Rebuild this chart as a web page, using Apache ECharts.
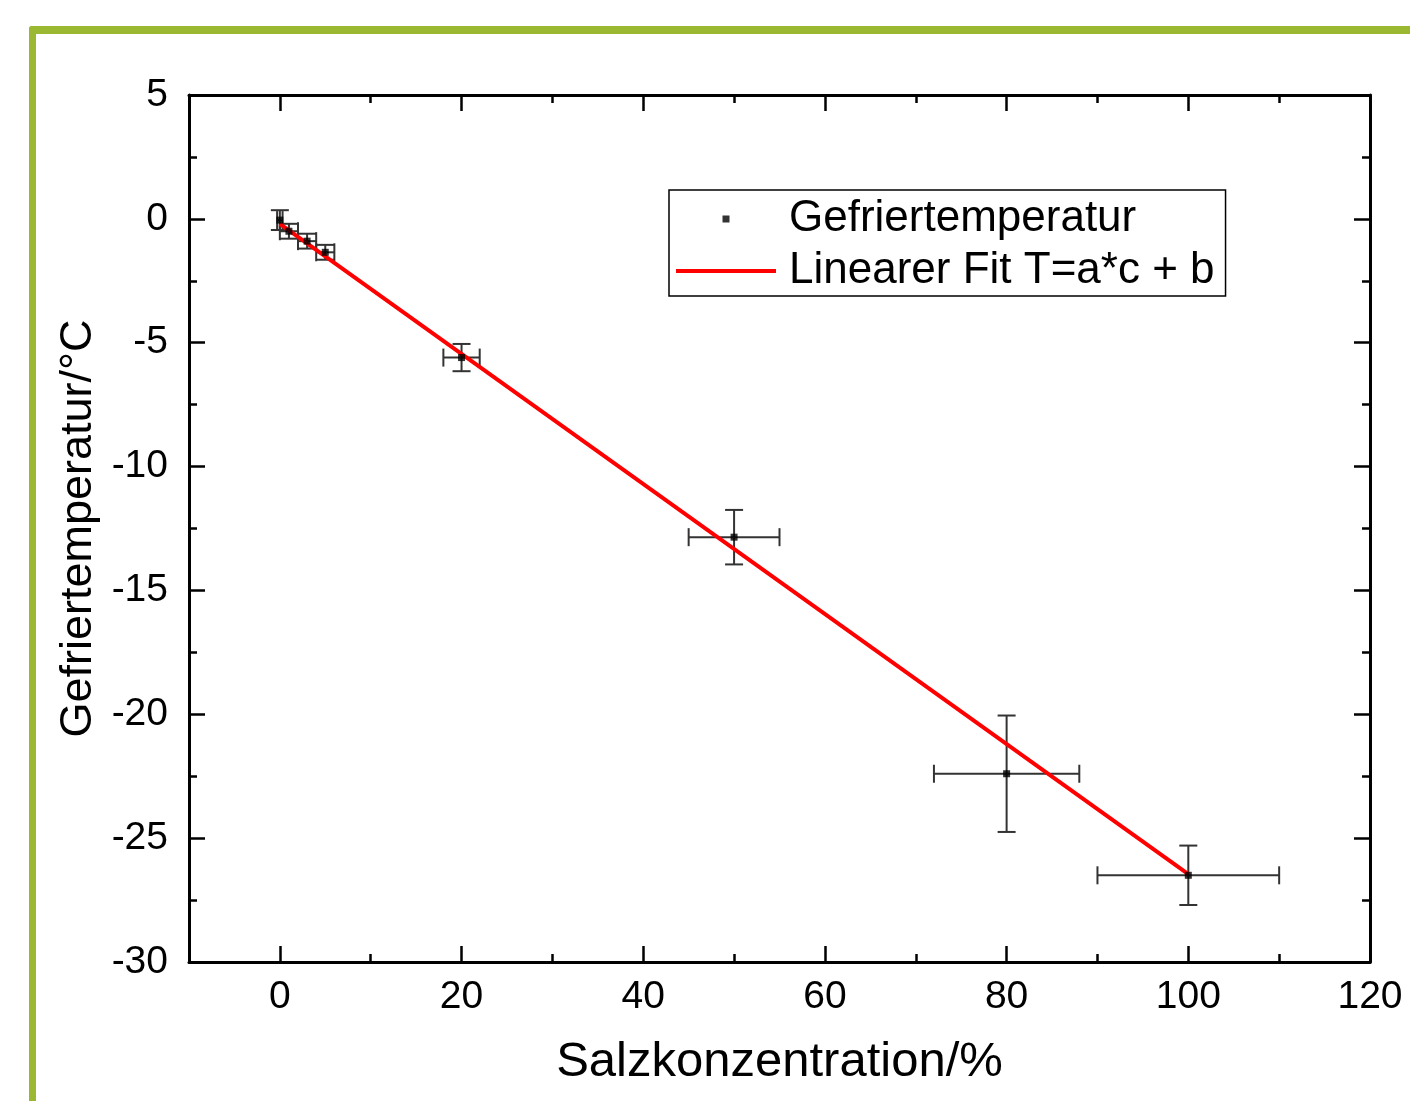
<!DOCTYPE html>
<html><head><meta charset="utf-8">
<script src="https://cdn.jsdelivr.net/npm/echarts@6/dist/echarts.min.js"></script>
<style>html,body{margin:0;padding:0;background:#fff}#c{width:1410px;height:1101px}</style>
</head><body><div id="c"></div>
<script>
// ---- data ----
const concentration = [0, 1, 3, 5, 20, 50, 80, 100];
const freezeTemp    = [-0.05, -0.5, -0.9, -1.35, -5.6, -12.85, -22.4, -26.5];
const concErr       = [0.3, 1, 1, 1, 2, 5, 8, 10];
const tempErr       = [0.4, 0.3, 0.3, 0.3, 0.55, 1.1, 2.35, 1.2];
const fitX = [0, 100];
const fitY = [-0.2, -26.45];
const xMajorTicks = [0, 20, 40, 60, 80, 100, 120];
const xMinorTicks = [-10, 10, 30, 50, 70, 90, 110];
const yTickLabels = [-30, -25, -20, -15, -10, -5, 0, 5];

const FONT = 'Liberation Sans, Arial, sans-serif';
const errData = concentration.map((c, i) => [c, freezeTemp[i], concErr[i], tempErr[i]]);
const ptData = concentration.map((c, i) => [c, freezeTemp[i]]);
const fitData = fitX.map((x, i) => [x, fitY[i]]);

function renderErr(params, api) {
  const x = api.value(0), y = api.value(1), ex = api.value(2), ey = api.value(3);
  const c = api.coord([x, y]);
  const l = api.coord([x - ex, y]), r = api.coord([x + ex, y]);
  const t = api.coord([x, y + ey]), b = api.coord([x, y - ey]);
  const h = 9;
  const style = { stroke: '#333', lineWidth: 2, fill: null };
  return { type: 'group', children: [
    { type: 'line', shape: { x1: l[0], y1: c[1], x2: r[0], y2: c[1] }, style },
    { type: 'line', shape: { x1: l[0], y1: c[1] - h, x2: l[0], y2: c[1] + h }, style },
    { type: 'line', shape: { x1: r[0], y1: c[1] - h, x2: r[0], y2: c[1] + h }, style },
    { type: 'line', shape: { x1: c[0], y1: t[1], x2: c[0], y2: b[1] }, style },
    { type: 'line', shape: { x1: c[0] - h, y1: t[1], x2: c[0] + h, y2: t[1] }, style },
    { type: 'line', shape: { x1: c[0] - h, y1: b[1], x2: c[0] + h, y2: b[1] }, style }
  ]};
}

const axisLine = { show: true, onZero: false, lineStyle: { color: '#000', width: 3 } };
function xAx(pos, ticks, len, main) {
  return {
    type: 'value', position: pos, min: -10, max: 120,
    axisLine: main ? axisLine : { show: false, onZero: false },
    splitLine: { show: false },
    axisTick: { show: true, inside: true, length: len, customValues: ticks, lineStyle: { color: '#000', width: 2.5 } },
    axisLabel: main && pos === 'bottom'
      ? { show: true, customValues: xMajorTicks, margin: 16, fontSize: 39, color: '#000', fontFamily: FONT }
      : { show: false },
    name: main && pos === 'bottom' ? 'Salzkonzentration/%' : '',
    nameLocation: 'middle', nameGap: 76,
    nameTextStyle: { fontSize: 49, color: '#000', fontFamily: FONT }
  };
}
function yAx(pos) {
  return {
    type: 'value', position: pos, min: yTickLabels[0], max: yTickLabels[yTickLabels.length - 1], interval: 5,
    axisLine: axisLine,
    splitLine: { show: false },
    axisTick: { show: true, inside: true, length: 16, lineStyle: { color: '#000', width: 2.5 } },
    minorTick: { show: true, splitNumber: 2, length: 8, lineStyle: { color: '#000', width: 2.5 } },
    minorSplitLine: { show: false },
    axisLabel: pos === 'left'
      ? { show: true, margin: 21, fontSize: 39, color: '#000', fontFamily: FONT }
      : { show: false },
    name: pos === 'left' ? 'Gefriertemperatur/°C' : '',
    nameLocation: 'middle', nameGap: 88, nameRotate: 90,
    nameTextStyle: { fontSize: 45, color: '#000', fontFamily: FONT }
  };
}

const chart = echarts.init(document.getElementById('c'), null, { renderer: 'canvas' });
chart.setOption({
  backgroundColor: '#fff',
  animation: false,
  grid: { left: 189, right: 40, top: 95, bottom: 139, containLabel: false },
  xAxis: [
    xAx('bottom', xMajorTicks, 16, true),
    xAx('bottom', xMinorTicks, 8, false),
    xAx('top', xMajorTicks, 16, true),
    xAx('top', xMinorTicks, 8, false)
  ],
  yAxis: [yAx('left'), yAx('right')],
  legend: {
    left: 669, top: 190, orient: 'vertical',
    padding: [6, 11, 2, 7], itemGap: 6,
    itemWidth: 100, itemHeight: 7,
    borderColor: '#000', borderWidth: 1.5,
    textStyle: { fontSize: 44, lineHeight: 46, color: '#000', fontFamily: FONT, padding: [0, 0, 0, 8] },
    data: [
      { name: 'Gefriertemperatur', icon: 'path://M0,0 M100,7 M46.5,0 L53.5,0 L53.5,7 L46.5,7 Z' },
      { name: 'Linearer Fit T=a*c + b', icon: 'path://M0,0 M100,7 M0,1.5 L100,1.5 L100,5.5 L0,5.5 Z' }
    ]
  },
  graphic: [
    { type: 'rect', shape: { x: 29, y: 26, width: 1381, height: 8, r: [3, 0, 0, 0] }, style: { fill: '#9bb832' } },
    { type: 'rect', shape: { x: 29, y: 26, width: 7, height: 1075, r: [3, 0, 0, 0] }, style: { fill: '#9bb832' } }
  ],
  series: [
    { type: 'custom', name: 'err', xAxisIndex: 0, yAxisIndex: 0, renderItem: renderErr,
      encode: { x: 0, y: 1 }, data: errData, z: 1, silent: true },
    { type: 'line', name: 'Linearer Fit T=a*c + b', xAxisIndex: 0, yAxisIndex: 0, data: fitData,
      symbol: 'none', lineStyle: { color: '#ff0000', width: 4 }, itemStyle: { color: '#ff0000' }, z: 2 },
    { type: 'scatter', name: 'Gefriertemperatur', xAxisIndex: 0, yAxisIndex: 0, data: ptData,
      symbol: 'rect', symbolSize: 7, itemStyle: { color: '#000' }, z: 3 }
  ]
});
</script>
</body></html>
